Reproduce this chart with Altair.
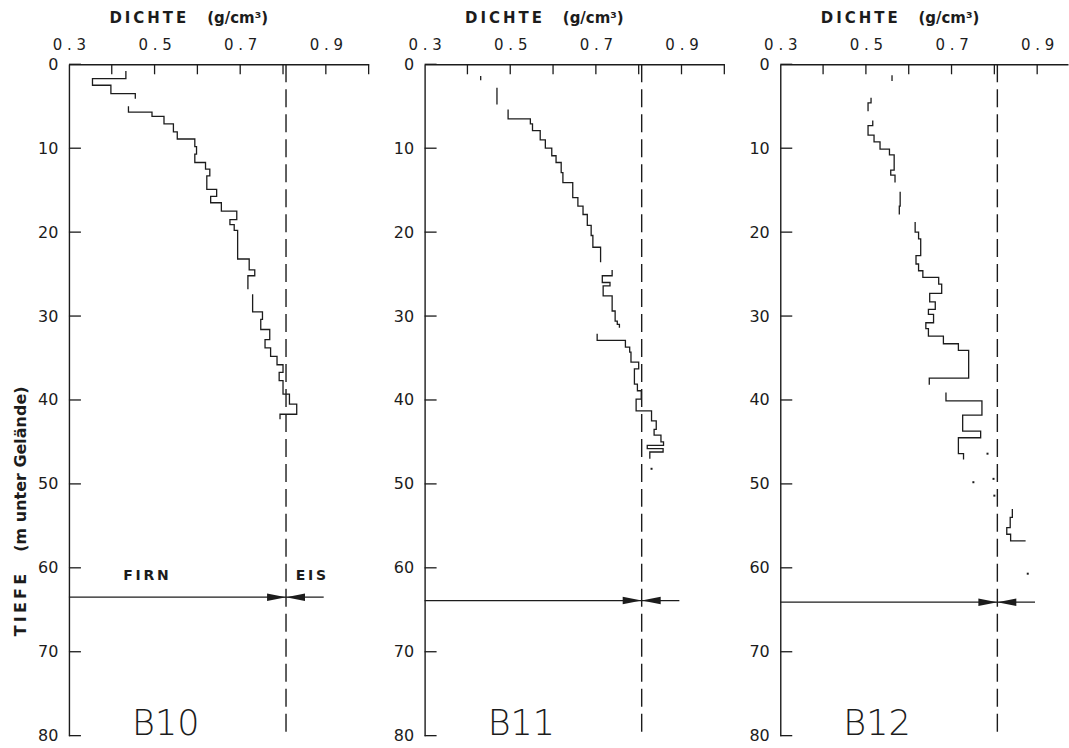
import altair as alt
import pandas as pd

# ---------------- data ----------------
X_LABELS = [0.3, 0.5, 0.7, 0.9]
X_TICKS = [0.4, 0.5, 0.6, 0.7, 0.8, 0.9, 1.0]
Y_TICKS = [0, 10, 20, 30, 40, 50, 60, 70, 80]
ICE_DENSITY = 0.807          # dashed firn/ice boundary
ARROW_END = 0.895

# B10 step profile: layer boundaries (depth, m) and densities (g/cm3)
b10_depth_1 = [0.8, 1.7, 2.5, 3.5, 4.1]
b10_rho_1 = [0.433, 0.355, 0.398, 0.455]
b10_depth_2 = [5.0, 5.7, 6.2, 7.1, 8.05, 8.9, 9.8, 10.7, 11.7, 12.5, 13.3, 14.9,
               15.75, 16.5, 17.5, 18.5, 19.1, 19.8, 23.2, 24.5, 25.2, 26.8]
b10_rho_2 = [0.439, 0.494, 0.522, 0.544, 0.553, 0.594, 0.598, 0.594, 0.619, 0.629,
             0.622, 0.645, 0.631, 0.656, 0.692, 0.676, 0.686, 0.694, 0.721, 0.734, 0.718]
b10_depth_3 = [27.4, 29.5, 30.4, 31.6, 32.8, 33.8, 34.8, 35.8, 36.7, 37.7, 39.3,
               40.5, 41.7, 42.3]
b10_rho_3 = [0.729, 0.752, 0.748, 0.769, 0.758, 0.771, 0.786, 0.800, 0.791, 0.800,
             0.815, 0.832, 0.793]

# B11
b11_depth_0 = [1.4, 1.9]
b11_rho_0 = [0.431]
b11_depth_1 = [2.8, 4.8]
b11_rho_1 = [0.469]
b11_depth_2 = [5.4, 6.5, 7.1, 7.9, 9.0, 10.0, 10.9, 11.7, 12.9, 14.1, 15.9, 16.9,
               17.9, 19.2, 20.4, 21.8, 23.6]
b11_rho_2 = [0.495, 0.547, 0.552, 0.570, 0.582, 0.597, 0.607, 0.619, 0.623, 0.646,
             0.658, 0.670, 0.680, 0.689, 0.693, 0.711]
b11_depth_3 = [24.5, 25.2, 26.0, 26.4, 27.6, 29.4, 30.6, 31.0, 31.4]
b11_rho_3 = [0.738, 0.715, 0.733, 0.717, 0.738, 0.745, 0.750, 0.755]
b11_depth_4 = [32.1, 32.9, 33.7, 34.3, 35.5, 36.3, 38.1, 38.9, 39.9, 41.3, 42.5,
               43.5, 44.2, 45.0, 45.4, 45.8, 46.2, 47.0]
b11_rho_4 = [0.703, 0.769, 0.779, 0.782, 0.800, 0.790, 0.797, 0.806, 0.794, 0.830,
             0.841, 0.836, 0.852, 0.858, 0.820, 0.857, 0.826]
b11_dot_depth = [48.2]
b11_dot_rho = [0.830]

# B12
b12_depth_0 = [1.3, 2.0]
b12_rho_0 = [0.561]
b12_depth_1 = [4.0, 4.6, 5.6]
b12_rho_1 = [0.512, 0.505]
b12_depth_2 = [6.7, 7.3, 8.45, 9.25, 10.1, 10.8, 12.6, 13.2, 14.1]
b12_rho_2 = [0.516, 0.505, 0.519, 0.533, 0.555, 0.566, 0.558, 0.568]
b12_depth_3 = [15.2, 16.9, 17.9]
b12_rho_3 = [0.580, 0.578]
b12_depth_4 = [18.8, 20.0, 20.8, 22.8, 23.8, 24.6, 25.4, 26.2, 27.3, 28.3, 29.2,
               29.8, 30.8, 31.5, 32.4, 33.3, 34.1, 37.4, 38.2]
b12_rho_4 = [0.615, 0.623, 0.628, 0.617, 0.623, 0.633, 0.670, 0.677, 0.649, 0.662,
             0.646, 0.658, 0.640, 0.646, 0.681, 0.716, 0.740, 0.648]
b12_depth_5 = [39.1, 40.1, 41.8, 43.7, 44.5, 46.4, 47.1]
b12_rho_5 = [0.687, 0.771, 0.726, 0.768, 0.716, 0.728]
b12_depth_6 = [53.0, 54.0, 55.2, 56.0, 56.8, 56.8]
b12_rho_6 = [0.842, 0.837, 0.829, 0.838, 0.873]
b12_dot_depth = [46.4, 49.8, 49.4, 51.4, 60.7]
b12_dot_rho = [0.784, 0.751, 0.798, 0.800, 0.878]

ARROW_DEPTHS = {"B10": 63.5, "B11": 63.9, "B12": 64.1}
LABEL_RHO = [0.526]
LABEL_DEPTH = [78.6]
FIRN_EIS_TEXT = ["F\u2009I\u2009R\u2009N", "E\u2009I\u2009S"]
FIRN_EIS_RHO = [0.48, 0.865]
FIRN_EIS_DEPTH = [61.0, 61.0]

X_TITLE = "D\u2009I\u2009C\u2009H\u2009T\u2009E\u00a0\u00a0\u00a0\u00a0(g/cm³)"
Y_TITLE = "T\u2009I\u2009E\u2009F\u2009E\u00a0\u00a0\u00a0\u00a0(m unter Gelände)"

INK = "#1c1c1c"
FONT = "DejaVu Sans"


def steps(depths, rhos, seg):
    rows = []
    for i, r in enumerate(rhos):
        rows.append({"rho": r, "depth": depths[i], "seg": seg, "ord": 2 * i})
        rows.append({"rho": r, "depth": depths[i + 1], "seg": seg, "ord": 2 * i + 1})
    return rows


LEFT_HEAD = "M 0 0 L -2 -0.4 L -2 0.4 Z"
RIGHT_HEAD = "M 0 0 L 2 -0.4 L 2 0.4 Z"


def make_panel(name, segments, dots, first, x_max, width):
    xs = alt.Scale(domain=[0.3, x_max], nice=False, zero=False)
    ys = alt.Scale(domain=[0, 80], reverse=True, nice=False, zero=False)

    rows = []
    for k, (d, r) in enumerate(segments):
        rows += steps(d, r, k)
    prof = pd.DataFrame(rows)

    x_axis = alt.Axis(orient="top", values=X_LABELS, ticks=False,
                      labelExpr="replace(format(datum.value, '.1f'), '.', ' . ')",
                      grid=False, domainColor=INK, domainWidth=1.4,
                      labelFont=FONT, labelFontSize=15, labelPadding=12,
                      labelColor=INK, labelFlush=False,
                      title=X_TITLE, titleFont=FONT, titleFontSize=15,
                      titleFontWeight="bold", titleColor=INK, titleX=40, titleY=-47,
                      titleAlign="left", titleBaseline="middle")
    if first:
        y_axis = alt.Axis(orient="left", values=Y_TICKS, ticks=False, grid=False,
                          domainColor=INK, domainWidth=1.4, labelFont=FONT,
                          labelFontSize=16, labelPadding=11, labelColor=INK,
                          title=Y_TITLE, titleFont=FONT,
                          titleFontSize=16, titleFontWeight="bold", titleColor=INK,
                          titleAngle=270, titleX=-48, titleY=447,
                          titleAlign="center", titleBaseline="middle")
    else:
        y_axis = alt.Axis(orient="left", values=Y_TICKS, ticks=False, grid=False,
                          domainColor=INK, domainWidth=1.4, labelFont=FONT,
                          labelFontSize=16, labelPadding=11, labelColor=INK,
                          title=None)

    def X(field):
        return alt.X(field, scale=xs, axis=x_axis)

    def Y(field):
        return alt.Y(field, scale=ys, axis=y_axis)

    line = alt.Chart(prof).mark_line(color=INK, strokeWidth=1.3).encode(
        x=X("rho:Q"), y=Y("depth:Q"), detail="seg:N", order="ord:Q",
    )

    dash = alt.Chart(pd.DataFrame({"rho": [ICE_DENSITY], "depth": [0], "bottom": [80]})).mark_rule(
        color=INK, strokeWidth=1.4, strokeDash=[18, 7]).encode(
        x=X("rho:Q"), y=Y("depth:Q"), y2="bottom:Q",
    )

    yt = alt.Chart(pd.DataFrame({"depth": Y_TICKS})).mark_rule(color=INK, strokeWidth=1.3).encode(
        y=Y("depth:Q"), x=alt.value(0), x2=alt.value(12),
    )
    xt = alt.Chart(pd.DataFrame({"rho": [t for t in X_TICKS if t <= x_max]})).mark_rule(
        color=INK, strokeWidth=1.3).encode(
        x=X("rho:Q"), y=alt.value(0), y2=alt.value(10),
    )

    ad = ARROW_DEPTHS[name]
    arrow = alt.Chart(pd.DataFrame({"rho": [0.3], "rho2": [ARROW_END], "depth": [ad]})).mark_rule(
        color=INK, strokeWidth=1.3).encode(
        x=X("rho:Q"), x2="rho2:Q", y=Y("depth:Q"),
    )
    head_df = pd.DataFrame({"rho": [ICE_DENSITY], "depth": [ad]})
    lh = alt.Chart(head_df).mark_point(shape=LEFT_HEAD, size=361, filled=True, color=INK,
                                        opacity=1, strokeWidth=0).encode(
        x=X("rho:Q"), y=Y("depth:Q"))
    rh = alt.Chart(head_df).mark_point(shape=RIGHT_HEAD, size=361, filled=True, color=INK,
                                        opacity=1, strokeWidth=0).encode(
        x=X("rho:Q"), y=Y("depth:Q"))

    label = alt.Chart(pd.DataFrame({"rho": LABEL_RHO, "depth": LABEL_DEPTH, "t": [name]})).mark_text(
        font=FONT, fontSize=35, fontWeight=200, color=INK, align="center", baseline="middle").encode(
        x=X("rho:Q"), y=Y("depth:Q"), text="t:N")

    layers = [line, dash, yt, xt, arrow, lh, rh, label]

    if dots is not None:
        dd = pd.DataFrame({"rho": dots[1], "depth": dots[0]})
        layers.append(alt.Chart(dd).mark_square(size=4, color=INK, opacity=1).encode(
            x=X("rho:Q"), y=Y("depth:Q")))

    if first:
        fe = pd.DataFrame({"rho": FIRN_EIS_RHO, "depth": FIRN_EIS_DEPTH, "t": FIRN_EIS_TEXT})
        layers.append(alt.Chart(fe).mark_text(font=FONT, fontSize=14, fontWeight="bold",
                                              color=INK, align="center", baseline="middle").encode(
            x=X("rho:Q"), y=Y("depth:Q"), text="t:N"))

    return alt.layer(*layers).properties(width=width, height=672)


p1 = make_panel("B10", [(b10_depth_1, b10_rho_1), (b10_depth_2, b10_rho_2),
                        (b10_depth_3, b10_rho_3)], None, True, 1.0, 300)
p2 = make_panel("B11", [(b11_depth_0, b11_rho_0), (b11_depth_1, b11_rho_1),
                        (b11_depth_2, b11_rho_2), (b11_depth_3, b11_rho_3),
                        (b11_depth_4, b11_rho_4)], (b11_dot_depth, b11_dot_rho), False, 1.0, 300)
p3 = make_panel("B12", [(b12_depth_0, b12_rho_0), (b12_depth_1, b12_rho_1),
                        (b12_depth_2, b12_rho_2), (b12_depth_3, b12_rho_3),
                        (b12_depth_4, b12_rho_4), (b12_depth_5, b12_rho_5),
                        (b12_depth_6, b12_rho_6)], (b12_dot_depth, b12_dot_rho), False, 0.972, 288)

chart = alt.hconcat(p1, p2, p3, spacing=56, bounds="flush").properties(
    padding={"left": 12, "top": 9, "right": 0, "bottom": 0},
    background="white",
).configure_view(stroke="transparent")

chart.save("out.html", embed_options={"renderer": "svg", "actions": False})
